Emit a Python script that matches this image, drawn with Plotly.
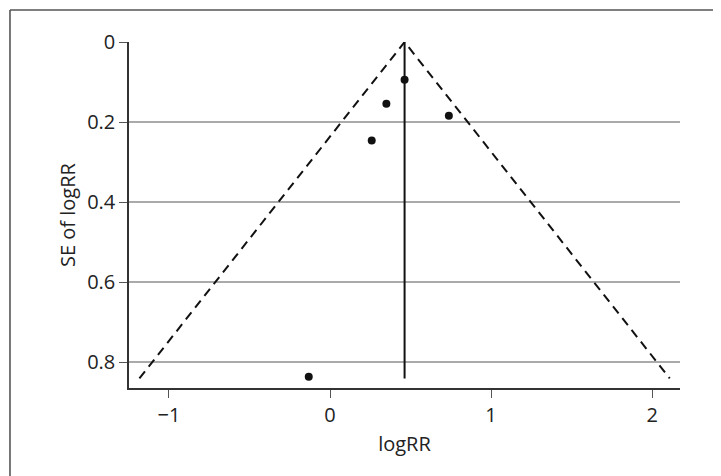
import plotly.graph_objects as go

# Study estimates
log_rr = [0.463, 0.350, 0.738, 0.259, -0.132]
se_log_rr = [0.094, 0.154, 0.184, 0.246, 0.836]

pooled = 0.463
se_max = 0.84

x_ticks = [-1, 0, 1, 2]
y_ticks = [0, 0.2, 0.4, 0.6, 0.8]

font = dict(family="Open Sans", size=20, color="#222222")

fig = go.Figure()

# funnel (pseudo 95% limits)
fig.add_trace(go.Scatter(
    x=[pooled - 1.96 * se_max, pooled, pooled + 1.96 * se_max],
    y=[se_max, 0, se_max],
    mode="lines",
    line=dict(color="#111111", width=2, dash="9px,6px"),
    hoverinfo="skip", showlegend=False,
))
# pooled estimate line
fig.add_trace(go.Scatter(
    x=[pooled, pooled], y=[0, se_max],
    mode="lines",
    line=dict(color="#111111", width=2),
    hoverinfo="skip", showlegend=False,
))
# studies
fig.add_trace(go.Scatter(
    x=log_rr, y=se_log_rr,
    mode="markers",
    marker=dict(color="#111111", size=8),
    showlegend=False,
))

fig.update_layout(
    width=721, height=476,
    margin=dict(l=121, r=49, t=34, b=96, autoexpand=False),
    paper_bgcolor="white", plot_bgcolor="white",
    font=font,
    xaxis=dict(
        range=[-1.248, 2.173], tickvals=x_ticks,
        showgrid=False, zeroline=False,
        showline=True, linecolor="#333333", linewidth=1.5,
        ticks="outside", ticklen=8, tickwidth=1.3, tickcolor="#555555",
        title=dict(text="logRR", standoff=10, font=font),
        automargin=False,
    ),
    yaxis=dict(
        range=[0.864, 0], tickvals=y_ticks,
        showgrid=True, gridcolor="#aaaaaa", gridwidth=1.5,
        zeroline=False,
        showline=True, linecolor="#333333", linewidth=1.5,
        ticks="outside", ticklen=8, tickwidth=1.3, tickcolor="#555555",
        title=dict(text="SE of logRR", standoff=6, font=font),
        automargin=False,
    ),
    shapes=[
        dict(type="line", xref="paper", yref="paper",
             x0=-0.216, x1=-0.216, y0=1.0925, y1=-1,
             line=dict(color="#555555", width=1.6)),
        dict(type="line", xref="paper", yref="paper",
             x0=-0.216, x1=2, y0=1.0925, y1=1.0925,
             line=dict(color="#555555", width=1.6)),
    ],
)

fig.write_html("out.html")
